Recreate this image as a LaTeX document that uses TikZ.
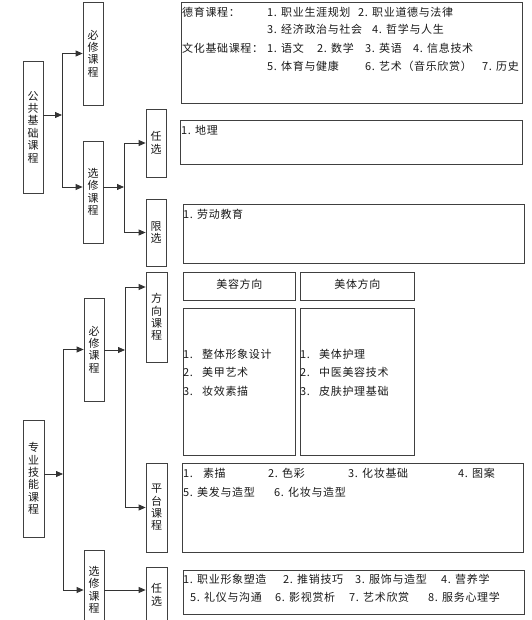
\documentclass[tikz,border=0pt]{standalone}
\usepackage{fontspec}
\setmainfont[LetterSpace=6]{Noto Sans CJK SC}
\usetikzlibrary{arrows.meta}
\newcommand\txtfont{\fontsize{11}{13}\selectfont}
\newcommand\vtfont{\fontsize{11}{12.4}\selectfont}

\begin{document}
\begin{tikzpicture}[x=1pt,y=-1pt,
  vbox/.style={draw=black!75,line width=0.8pt,minimum width=20,minimum height=#1,inner sep=0,align=center,font=\vtfont,text=black!90},
  cbox/.style 2 args={draw=black!75,line width=0.8pt,anchor=north west,minimum width=#1,minimum height=#2,inner sep=0},
  txt/.style={anchor=west,inner sep=0,font=\txtfont,text=black!90},
  arr/.style={draw=black!80,line width=0.8pt,-{Triangle[length=7pt,width=6pt]}}]
\useasboundingbox (0,0) rectangle (531,620);
\clip (0,0) rectangle (531,620);

% public foundation courses
\node[vbox=132] (gg) at (33,127) {公\\共\\基\\础\\课\\程};
\node[vbox=103] (bx1) at (93,53.5) {必\\修\\课\\程};
\node[vbox=102] (xx1) at (93,192) {选\\修\\课\\程};
\node[vbox=68] (rx1) at (156,143) {任\\选};
\node[vbox=67] (xz1) at (156,232.5) {限\\选};
\coordinate (j1) at (62,115);
\coordinate (j2) at (124,187);
\draw[arr] (gg.east |- j1) -- (j1);
\draw[arr] (j1) |- (bx1.west);
\draw[arr] (j1) |- ([yshift=5]xx1.west);
\draw[arr] (xx1.east |- j2) -- (j2);
\draw[arr] (j2) |- (rx1.west);
\draw[arr] (j2) |- (xz1.west);

\node[cbox={341}{101}] (c1) at (181,2) {};
\node[txt] (c1a) at (182,12) {\makebox[85pt][l]{德育课程：}\makebox[91pt][l]{1. 职业生涯规划}2. 职业道德与法律};
\node[txt] (c1b) at (182,29.5) {\hspace*{85pt}\makebox[105pt][l]{3. 经济政治与社会}4. 哲学与人生};
\node[txt] (c1c) at (182,48) {\makebox[85pt][l]{文化基础课程：}\makebox[50pt][l]{1. 语文}\makebox[48pt][l]{2. 数学}\makebox[48pt][l]{3. 英语}4. 信息技术};
\node[txt] (c1d) at (182,66) {\hspace*{85pt}\makebox[98pt][l]{5. 体育与健康}\makebox[117pt][l]{6. 艺术（音乐欣赏）}7. 历史};
\node[cbox={342}{44}] (c2) at (180,120) {};
\node[txt] (c2a) at (181,130) {1. 地理};
\node[cbox={341}{59}] (c3) at (183,204) {};
\node[txt] (c3a) at (183,214) {1. 劳动教育};

% professional skill courses
\node[vbox=117,minimum width=21] (zy) at (33.5,478.5) {专\\业\\技\\能\\课\\程};
\node[vbox=103] (bx2) at (94,349.5) {必\\修\\课\\程};
\node[vbox=80] (xx2) at (94,590) {选\\修\\课\\程};
\node[vbox=90,minimum width=21] (fx) at (156.5,317) {方\\向\\课\\程};
\node[vbox=89,minimum width=21] (pt) at (156.5,507.5) {平\\台\\课\\程};
\node[vbox=56,minimum width=21] (rx2) at (156.5,595) {任\\选};
\coordinate (j3) at (63,474);
\coordinate (j4) at (125,350);
\draw[arr] (zy.east |- j3) -- (j3);
\draw[arr] (j3) |- (bx2.west);
\draw[arr] (j3) |- (xx2.west);
\draw[arr] (bx2.east |- j4) -- (j4);
\draw[arr] (j4) |- ([yshift=30]fx.west);
\draw[arr] (j4) |- (pt.west);
\draw[arr] (xx2.east) -- (rx2.west |- xx2.east);

\node[cbox={112}{28}] (mr) at (183,272) {};
\node[txt,anchor=center] (mra) at ([yshift=2]mr.center) {美容方向};
\node[cbox={114}{28}] (mt) at (300,272) {};
\node[txt,anchor=center] (mta) at ([yshift=2]mt.center) {美体方向};
\node[cbox={112}{147}] (mrl) at (183,308) {};
\node[txt] (mrl1) at (183,354) {\makebox[19pt][l]{1.}整体形象设计};
\node[txt] (mrl2) at (183,372.5) {\makebox[19pt][l]{2.}美甲艺术};
\node[txt] (mrl3) at (183,391) {\makebox[19pt][l]{3.}妆效素描};
\node[cbox={114}{147}] (mtl) at (300,308) {};
\node[txt] (mtl1) at (300,354) {\makebox[19pt][l]{1.}美体护理};
\node[txt] (mtl2) at (300,372.5) {\makebox[19pt][l]{2.}中医美容技术};
\node[txt] (mtl3) at (300,391) {\makebox[19pt][l]{3.}皮肤护理基础};

\node[cbox={341}{89}] (c4) at (182,463) {};
\node[txt] (c4a) at (183,473) {\makebox[85pt][l]{1.\hspace{10pt}素描}\makebox[80pt][l]{2. 色彩}\makebox[110pt][l]{3. 化妆基础}4. 图案};
\node[txt] (c4b) at (183,492) {\makebox[91pt][l]{5. 美发与造型}6. 化妆与造型};
\node[cbox={341}{44}] (c5) at (183,570) {};
\node[txt] (c5a) at (183,579) {\makebox[100pt][l]{1. 职业形象塑造}\makebox[72pt][l]{2. 推销技巧}\makebox[86pt][l]{3. 服饰与造型}4. 营养学};
\node[txt] (c5b) at (190,597) {\makebox[85pt][l]{5. 礼仪与沟通}\makebox[74pt][l]{6. 影视赏析}\makebox[79pt][l]{7. 艺术欣赏}8. 服务心理学};
\end{tikzpicture}
\end{document}
